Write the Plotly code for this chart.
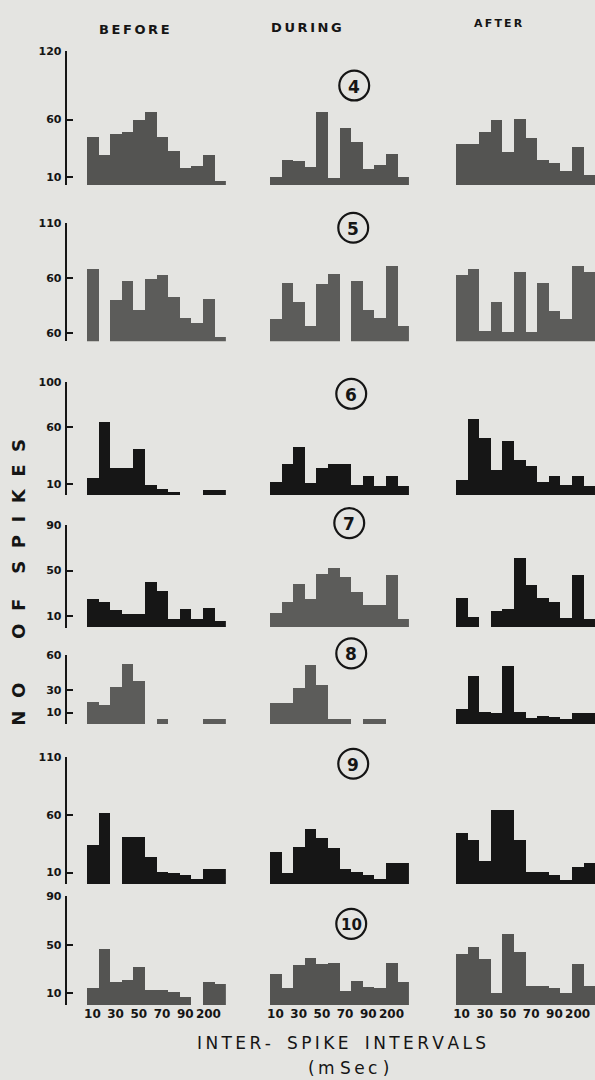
import plotly.graph_objects as go

W, H = 595, 1080

# ---------------- data ----------------
BINS = list(range(12))                       # 12 inter-spike-interval bins
X_TICK_BINS = [0, 2, 4, 6, 8, 10]
X_TICK_TEXT = ["10", "30", "50", "70", "90", "200"]

CELLS = ["4", "5", "6", "7", "8", "9", "10"]
PHASES = ["BEFORE", "DURING", "AFTER"]

C4_BEFORE = [45, 29, 48, 49, 60, 67, 45, 33, 18, 20, 29, 7]
C4_DURING = [10, 25, 24, 19, 67, 9, 53, 41, 17, 21, 30, 10]
C4_AFTER = [39, 39, 49, 60, 32, 61, 44, 25, 22, 15, 36, 12]

C5_BEFORE = [68, 0, 40, 58, 31, 59, 63, 43, 24, 20, 41, 7]
C5_DURING = [23, 56, 39, 17, 55, 64, 0, 58, 31, 24, 71, 17]
C5_AFTER = [63, 68, 12, 39, 11, 66, 11, 56, 30, 23, 71, 66]

C6_BEFORE = [15, 65, 24, 24, 41, 9, 6, 3, 0, 0, 5, 5]
C6_DURING = [12, 28, 43, 11, 24, 28, 28, 9, 17, 8, 17, 8]
C6_AFTER = [14, 67, 51, 22, 48, 31, 26, 12, 17, 9, 17, 8]

C7_BEFORE = [25, 22, 15, 12, 12, 40, 32, 7, 16, 7, 17, 6]
C7_DURING = [13, 22, 38, 25, 47, 52, 44, 31, 20, 20, 46, 7]
C7_AFTER = [26, 9, 0, 14, 16, 61, 37, 26, 22, 8, 46, 7]

C8_BEFORE = [19, 16, 32, 52, 37, 0, 4, 0, 0, 0, 4, 4]
C8_DURING = [18, 18, 31, 51, 34, 4, 4, 0, 4, 4, 0, 0]
C8_AFTER = [13, 42, 10, 9, 50, 10, 5, 7, 6, 4, 9, 9]

C9_BEFORE = [34, 62, 0, 41, 41, 24, 11, 10, 8, 5, 13, 13]
C9_DURING = [28, 10, 32, 48, 40, 31, 13, 11, 8, 5, 18, 18]
C9_AFTER = [44, 38, 20, 64, 64, 38, 11, 11, 8, 4, 15, 18]

C10_BEFORE = [14, 46, 19, 21, 32, 13, 13, 11, 7, 0, 19, 18]
C10_DURING = [26, 14, 33, 39, 34, 35, 12, 20, 15, 14, 35, 19]
C10_AFTER = [42, 48, 38, 10, 59, 44, 16, 16, 14, 10, 34, 16]

Y_TICK_VALS = {
    "4": [10, 60, 120], "5": [10, 60, 110], "6": [10, 60, 100],
    "7": [10, 50, 90], "8": [10, 30, 60], "9": [10, 60, 110], "10": [10, 50, 90],
}
Y_TICK_TEXT = {
    "4": ["10", "60", "120"], "5": ["60", "60", "110"], "6": ["10", "60", "100"],
    "7": ["10", "50", "90"], "8": ["10", "30", "60"], "9": ["10", "60", "110"],
    "10": ["10", "50", "90"],
}

DATA = {
    "4": [C4_BEFORE, C4_DURING, C4_AFTER],
    "5": [C5_BEFORE, C5_DURING, C5_AFTER],
    "6": [C6_BEFORE, C6_DURING, C6_AFTER],
    "7": [C7_BEFORE, C7_DURING, C7_AFTER],
    "8": [C8_BEFORE, C8_DURING, C8_AFTER],
    "9": [C9_BEFORE, C9_DURING, C9_AFTER],
    "10": [C10_BEFORE, C10_DURING, C10_AFTER],
}

# ---------------- styling / layout geometry ----------------
GREY = "#545452"
GREY2 = "#5c5c5a"
BLACK = "#161616"
COLORS = {
    "4": [GREY, GREY, GREY],
    "5": [GREY2, GREY2, GREY2],
    "6": [BLACK, BLACK, BLACK],
    "7": [BLACK, GREY2, BLACK],
    "8": [GREY2, GREY2, BLACK],
    "9": [BLACK, BLACK, BLACK],
    "10": [GREY, GREY, GREY],
}
# (baseline px, top px, y min, y max)
ROW_GEOM = {
    "4": (180, 45, 3, 120),
    "5": (337, 218, 3, 110),
    "6": (492, 378, 0, 100),
    "7": (625, 522, 0, 90),
    "8": (722, 653, 0, 60),
    "9": (883, 755, 0, 110),
    "10": (1005, 895, 0, 90),
}
COL_X = [(84, 224), (268, 408), (455, 595)]
AXIS_X = 63
CIRCLES = {"4": (353, 80), "5": (352, 223), "6": (350, 390), "7": (348, 520),
           "8": (350, 651), "9": (352, 762), "10": (350, 923)}

FONT = "DejaVu Sans"
INK = "#151515"
BG = "#e4e4e1"
NB = "\u00a0"
TS = "\u2009"

fig = go.Figure()
layout = {}
k = 0
for cell in CELLS:
    base_px, top_px, ymin, ymax = ROW_GEOM[cell]
    for c in range(3):
        k += 1
        sfx = "" if k == 1 else str(k)
        xa, ya = "x" + sfx, "y" + sfx
        fig.add_trace(go.Bar(
            x=BINS, y=DATA[cell][c], xaxis=xa, yaxis=ya, width=1.0,
            marker=dict(color=COLORS[cell][c], line=dict(width=0)),
            showlegend=False, hoverinfo="skip",
        ))
        x0, x1 = COL_X[c]
        xdict = dict(domain=[x0 / W, x1 / W], range=[-0.5, 11.5], anchor=ya,
                     showgrid=False, zeroline=False, showline=False, ticks="",
                     fixedrange=True)
        if cell == "10":
            xdict.update(showticklabels=True, tickmode="array",
                         tickvals=X_TICK_BINS, ticktext=X_TICK_TEXT,
                         tickfont=dict(family=FONT, size=12, color=INK, weight="bold"))
        else:
            xdict.update(showticklabels=False)
        layout["xaxis" + sfx] = xdict
        ydict = dict(domain=[1 - base_px / H, 1 - top_px / H], range=[ymin, ymax],
                     showgrid=False, zeroline=False, fixedrange=True)
        if c == 0:
            ydict.update(anchor="free", position=AXIS_X / W, side="left",
                         showline=True, linewidth=2, linecolor=INK,
                         ticks="inside", ticklen=6, tickwidth=2, tickcolor=INK,
                         tickmode="array", tickvals=Y_TICK_VALS[cell],
                         ticktext=Y_TICK_TEXT[cell], ticklabelstandoff=1,
                         tickfont=dict(family=FONT, size=11, color=INK, weight="bold"))
        else:
            ydict.update(anchor=xa, showline=False, showticklabels=False, ticks="")
        layout["yaxis" + sfx] = ydict

annotations = []
shapes = []


def px(xp, yp):
    return xp / W, 1 - yp / H


def note(text, xp, yp, size, weight="normal", angle=0):
    ax, ay = px(xp, yp)
    annotations.append(dict(text=text, x=ax, y=ay, xref="paper", yref="paper",
                            showarrow=False, xanchor="center", yanchor="middle",
                            textangle=angle,
                            font=dict(family=FONT, size=size, color=INK, weight=weight)))


# column headers
note(TS.join("BEFORE"), 132, 24, 13, "bold")
note(TS.join("DURING"), 305, 22, 13, "bold")
note(TS.join("AFTER"), 498, 18, 11, "bold")

# circled cell numbers
R = 15
for cell in CELLS:
    cx, cy = CIRCLES[cell]
    shapes.append(dict(type="circle", xref="paper", yref="paper",
                       x0=(cx - R) / W, x1=(cx + R) / W,
                       y0=1 - (cy + R) / H, y1=1 - (cy - R) / H,
                       line=dict(color=INK, width=2.2)))
    note(cell, cx, cy + 1, 17 if cell != "10" else 15, "bold")

ylab = (NB * 2).join("NO") + NB * 7 + (NB * 2).join("OF") + NB * 4 + (NB * 2).join("SPIKES")
note(ylab, 16, 579, 18, "bold", -90)

xlab = TS.join("INTER-") + NB * 3 + TS.join("SPIKE") + NB * 3 + TS.join("INTERVALS")
note(xlab, 340, 1043, 17)
note(TS.join("(m") + NB + TS.join("Sec") + NB + ")", 347, 1068, 17)

fig.update_layout(
    width=W, height=H, autosize=False,
    margin=dict(l=0, r=0, t=0, b=0),
    paper_bgcolor=BG, plot_bgcolor="rgba(0,0,0,0)",
    bargap=0, showlegend=False,
    annotations=annotations, shapes=shapes,
    **layout,
)

fig.write_html(
    "out.html",
    config={"displayModeBar": False},
    post_script="document.body.style.margin='0';document.body.style.padding='0';"
                "document.body.style.overflow='hidden';"
                "document.body.style.background='" + BG + "';",
)
